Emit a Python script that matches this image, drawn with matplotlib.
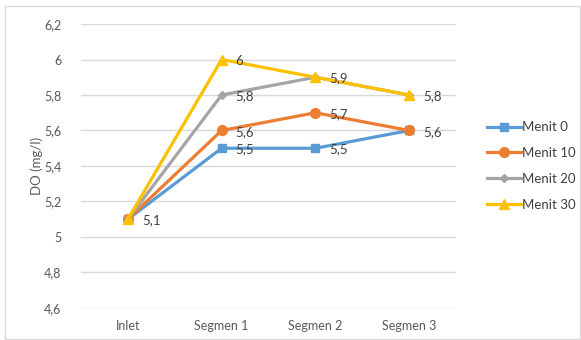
import matplotlib.pyplot as plt
from matplotlib.patches import Rectangle

categories = ["Inlet", "Segmen 1", "Segmen 2", "Segmen 3"]
menit_0 = [5.1, 5.5, 5.5, 5.6]
menit_10 = [5.1, 5.6, 5.7, 5.6]
menit_20 = [5.1, 5.8, 5.9, 5.8]
menit_30 = [5.1, 6.0, 5.9, 5.8]
series_names = ["Menit 0", "Menit 10", "Menit 20", "Menit 30"]
y_ticks = [4.6, 4.8, 5.0, 5.2, 5.4, 5.6, 5.8, 6.0, 6.2]

colors = ["#5B9BD5", "#ED7D31", "#A5A5A5", "#FFC000"]
markers = ["s", "o", "D", "^"]
msizes = [6, 7, 4.5, 7]

plt.rcParams['font.family'] = ['Lato', 'DejaVu Sans']

def fmt(v):
    s = ("%.1f" % v).rstrip("0").rstrip(".")
    return s.replace(".", ",")

fig = plt.figure(figsize=(5.81, 3.40), dpi=100)
# plot area: 81..456 px wide, 6,2 at y=24px and 4,6 at y=308px
ax = fig.add_axes([81 / 581, 1 - 308 / 340, (456 - 81) / 581, (308 - 24) / 340])
fig.patches.append(Rectangle((5 / 581, 0.002), 575 / 581, 1 - 6 / 340 - 0.002,
                             transform=fig.transFigure, fill=False,
                             edgecolor="#D9D9D9", linewidth=1))

x = list(range(len(categories)))
all_series = [menit_0, menit_10, menit_20, menit_30]
for vals, name, c, m, ms in zip(all_series, series_names, colors, markers, msizes):
    ax.plot(x, vals, color=c, linewidth=2.3, marker=m, markersize=ms,
            label=name, solid_joinstyle="round")

# data labels, one per distinct point (overlapping ones hidden like Excel)
for i in x:
    seen = set()
    for vals in all_series:
        v = round(vals[i], 2)
        if v in seen:
            continue
        seen.add(v)
        ax.annotate(fmt(v), (i, v), xytext=(10, -1), textcoords="offset points",
                    ha="left", va="center", fontsize=9.5, color="#404040")

ax.set_ylim(4.6, 6.2)
ax.set_xlim(-0.5, 3.5)

ax.set_yticks(y_ticks)
ax.set_yticklabels([fmt(v) for v in y_ticks])
ax.set_xticks(x)
ax.set_xticklabels(categories)
ax.tick_params(axis="both", length=0, labelsize=9, colors="#595959")
ax.tick_params(axis="y", pad=14)
ax.tick_params(axis="x", pad=9)
ax.grid(axis="y", color="#D9D9D9", linewidth=1)
ax.set_axisbelow(True)
for s in ax.spines.values():
    s.set_visible(False)
ax.set_ylabel("DO (mg/l)", fontsize=9.5, color="#595959", labelpad=1)

ax.legend(loc="center left", bbox_to_anchor=(1.05, 0.5), frameon=False,
          fontsize=9.5, labelcolor="#404040", handlelength=2.6,
          labelspacing=1.05, handletextpad=0.1)

fig.savefig("out.png", dpi=100)
